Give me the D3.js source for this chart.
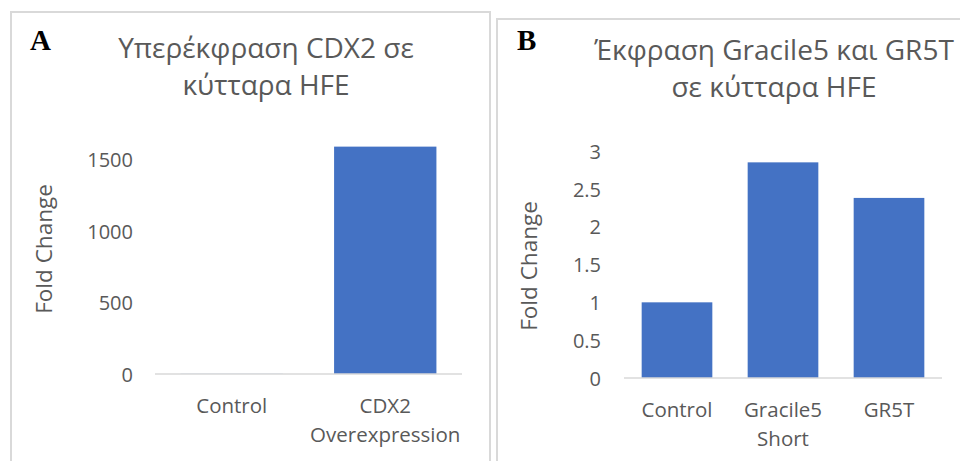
<!DOCTYPE html>
<html lang="el">
<head>
<meta charset="utf-8">
<title>Fold Change charts</title>
<script src="https://d3js.org/d3.v7.min.js"></script>
<style>
  body{margin:0;background:#fff;}
  svg text{font-family:"Open Sans",sans-serif;fill:#595959;}
  .panel-letter{font-family:"Liberation Serif","Times New Roman",serif;font-weight:bold;fill:#000;}
</style>
</head>
<body>
<div id="chart"></div>
<script>
// panel A data
var catsA = ["Control", "CDX2\nOverexpression"]
var valuesA = [1, 1590]
var ticksA = [0, 500, 1000, 1500]
var titleA = ["Υπερέκφραση CDX2 σε", "κύτταρα HFE"]

// panel B data
var catsB = ["Control", "Gracile5\nShort", "GR5T"]
var valuesB = [1, 2.85, 2.38]
var ticksB = [0, 0.5, 1, 1.5, 2, 2.5, 3]
var titleB = ["Έκφραση Gracile5 και GR5T", "σε κύτταρα HFE"]

var yLabel = "Fold Change"
var barColor = "#4472c4"

var svg = d3.select("#chart").append("svg")
    .attr("width", 960)
    .attr("height", 461)

function drawChart(cfg, cats, values, ticks, title, letter){
    var g = svg.append("g")

    // panel frame
    g.append("rect")
        .attr("x", cfg.box[0]).attr("y", cfg.box[1])
        .attr("width", cfg.box[2]).attr("height", cfg.box[3])
        .attr("fill", "none").attr("stroke", "#d9d9d9").attr("stroke-width", 2)

    g.append("text").attr("class", "panel-letter")
        .attr("x", cfg.letter[0]).attr("y", cfg.letter[1])
        .attr("font-size", 29)
        .text(letter)

    g.selectAll(".title")
        .data(title)
        .enter().append("text")
        .attr("class", "title")
        .attr("x", cfg.titleX)
        .attr("y", function(d, i){ return cfg.titleY + i * 37 })
        .attr("text-anchor", "middle")
        .attr("font-size", 28)
        .text(function(d){ return d })

    var x = d3.scaleBand().domain(cats).range(cfg.xr).paddingInner(1/3).paddingOuter(1/6)
    var y = d3.scaleLinear().domain([0, ticks[ticks.length-1]]).range(cfg.yr)

    // y tick labels (Excel style: no axis line, no ticks)
    var yAxis = d3.axisLeft(y).tickValues(ticks).tickSize(0).tickPadding(0)
        .tickFormat(function(d){ return String(d) })
    var ya = g.append("g")
        .attr("transform", "translate(" + cfg.labelRight + ",0)")
        .call(yAxis)
    ya.select(".domain").remove()
    ya.selectAll("text")
        .attr("font-family", null).attr("font-size", 20).attr("fill", "#595959")
        .attr("dy", "0.36em")

    // bars
    g.selectAll(".bar")
        .data(values)
        .enter().append("rect")
        .attr("class", "bar")
        .attr("x", function(d, i){ return x(cats[i]) })
        .attr("width", x.bandwidth())
        .attr("y", function(d){ return y(d) })
        .attr("height", function(d){ return y(0) - y(d) })
        .attr("fill", barColor)

    // baseline
    g.append("line")
        .attr("x1", cfg.xr[0]).attr("x2", cfg.xr[1])
        .attr("y1", y(0)).attr("y2", y(0))
        .attr("stroke", "#d9d9d9").attr("stroke-width", 1.5)

    // category labels, may wrap to two lines
    var xAxis = d3.axisBottom(x).tickSize(0).tickFormat("")
    var xa = g.append("g").attr("transform", "translate(0," + y(0) + ")").call(xAxis)
    xa.select(".domain").remove()
    xa.selectAll(".tick").each(function(d){
        d3.select(this).selectAll(".lbl")
            .data(d.split("\n"))
            .enter().append("text")
            .attr("class", "lbl")
            .attr("y", function(s, i){ return cfg.catDy + i * 29 })
            .attr("text-anchor", "middle")
            .attr("font-size", 20.5)
            .attr("fill", "#595959")
            .text(function(s){ return s })
    })

    g.append("text")
        .attr("transform", "translate(" + cfg.yTitle[0] + "," + cfg.yTitle[1] + ") rotate(-90)")
        .attr("text-anchor", "middle")
        .attr("font-size", 22.5)
        .text(yLabel)
}

drawChart({box:[11, 12, 479, 470], letter:[30, 50], titleX:266, titleY:58,
           xr:[155, 462], yr:[374, 159.5], labelRight:133, catDy:39, yTitle:[52, 249]},
          catsA, valuesA, ticksA, titleA, "A")

drawChart({box:[497, 19, 480, 460], letter:[517, 50], titleX:774, titleY:60,
           xr:[624, 942], yr:[378, 151], labelRight:601, catDy:39, yTitle:[537, 266]},
          catsB, valuesB, ticksB, titleB, "B")
</script>
</body>
</html>
